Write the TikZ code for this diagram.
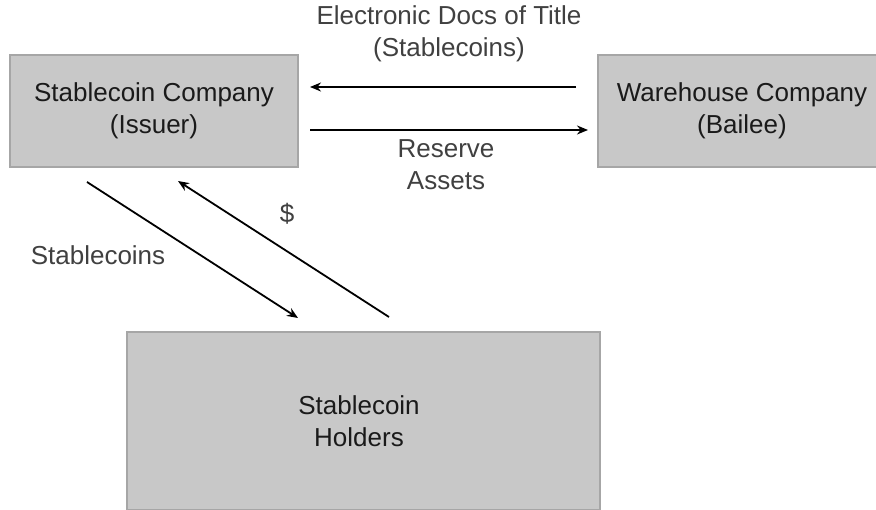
\documentclass[tikz,border=0pt]{standalone}
\usepackage{fontspec}
\setmainfont{Liberation Sans}
\usetikzlibrary{arrows.meta}
\definecolor{boxfill}{HTML}{C8C8C8}
\definecolor{boxline}{HTML}{A6A6A6}
\definecolor{lbltext}{HTML}{404040}
\definecolor{boxtext}{HTML}{1A1A1A}
\begin{document}
\begin{tikzpicture}[x=1pt,y=-1pt,
  box/.style={draw=boxline, fill=boxfill, line width=1.2pt, inner sep=0pt, align=center,
    text=boxtext, font=\fontsize{26}{32}\selectfont},
  lbl/.style={align=center, inner sep=0pt, text=lbltext, font=\fontsize{26}{32}\selectfont},
  conn/.style={line width=1.8pt, -{Stealth[length=11pt,width=9pt]}}]
\useasboundingbox (0,0) rectangle (876,510);
\node[box, minimum width=288pt, minimum height=112pt] (issuer) at (154,111) {Stablecoin Company\\(Issuer)};
\node[box, minimum width=288pt, minimum height=112pt] (bailee) at (742,111) {Warehouse Company\\(Bailee)};
\node[box, minimum width=473pt, minimum height=178pt] (holders) at (363.5,421) {\hspace*{-9pt}Stablecoin\\\hspace*{-9pt}Holders};
\node[lbl] (docs) at (449,34) {Electronic Docs of Title\\(Stablecoins)};
\node[lbl] (reserve) at (446,165) {Reserve\\Assets};
\node[lbl] (dollar) at (287,214) {\$};
\node[lbl] (coins) at (98,255) {Stablecoins};
\coordinate (a1s) at (576,87);
\coordinate (a1e) at (310,87);
\coordinate (a2s) at (310,130);
\coordinate (a2e) at (588,130);
\coordinate (a3s) at (87,182);
\coordinate (a3e) at (298,318);
\coordinate (a4s) at (389,317);
\coordinate (a4e) at (178,181);
\draw[conn] (a1s) -- (a1e);
\draw[conn] (a2s) -- (a2e);
\draw[conn] (a3s) -- (a3e);
\draw[conn] (a4s) -- (a4e);
\end{tikzpicture}
\end{document}
